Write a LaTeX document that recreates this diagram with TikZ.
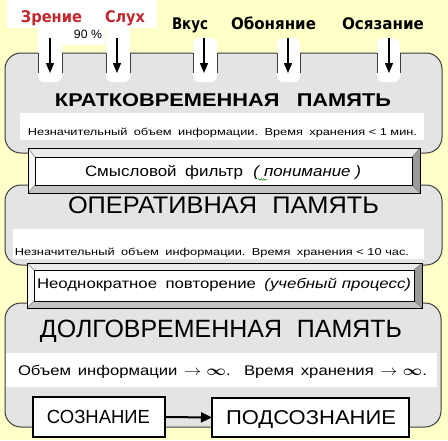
\documentclass[tikz,border=0pt]{standalone}
\usepackage{fontspec}
\usepackage{amsmath}
\setmainfont{Liberation Sans}
\newfontfamily\lblfont{DejaVu Sans}
\usetikzlibrary{arrows.meta,decorations.pathmorphing}
\newcommand{\fitw}[2]{\resizebox{#1}{\height}{#2}}
\definecolor{bgyellow}{RGB}{255,255,200}
\definecolor{boxgray}{RGB}{228,228,228}
\definecolor{boxline}{RGB}{60,60,60}
\definecolor{sensered}{RGB}{192,40,45}
\definecolor{bevtop}{RGB}{235,235,235}
\definecolor{bevleft}{RGB}{246,246,246}
\definecolor{bevright}{RGB}{154,154,154}
\definecolor{bevbot}{RGB}{196,196,196}
\newcommand{\bevelbox}[8]{%
  \fill[bevtop] (#1,-#2) -- (#3,-#2) -- (#7,-#6) -- (#5,-#6) -- cycle;
  \fill[bevleft] (#1,-#2) -- (#5,-#6) -- (#5,-#8) -- (#1,-#4) -- cycle;
  \fill[bevright] (#3,-#2) -- (#3,-#4) -- (#7,-#8) -- (#7,-#6) -- cycle;
  \fill[bevbot] (#1,-#4) -- (#5,-#8) -- (#7,-#8) -- (#3,-#4) -- cycle;
  \draw[line width=0.5pt, gray] (#1,-#2) -- (#5,-#6) (#3,-#2) -- (#7,-#6) (#1,-#4) -- (#5,-#8) (#3,-#4) -- (#7,-#8);
  \draw[line width=0.8pt] (#1,-#2) rectangle (#3,-#4);
  \draw[line width=0.8pt, fill=white] (#5,-#6) rectangle (#7,-#8);
}
\begin{document}
\begin{tikzpicture}[x=1pt,y=1pt,
  every node/.style={inner sep=0pt,outer sep=0pt},
  memory/.style={draw=boxline, fill=boxgray, rounded corners=16pt, line width=1pt},
  gapedge/.style={draw=boxline, line width=1pt},
  sensearrow/.style={-{Triangle[length=10pt,width=8pt]}, line width=1.4pt},
  senselbl/.style={anchor=base west, font=\lblfont\bfseries\fontsize{16}{16}\selectfont},
  smalltxt/.style={anchor=base west, font=\fontsize{10}{10}\selectfont},
  bigtitle/.style={anchor=base west, font=\fontsize{24}{24}\selectfont},
  plainbox/.style={draw=black, fill=white, line width=2pt, anchor=north west},
  flowarrow/.style={-{Triangle[length=11pt,width=10pt]}, line width=2pt}]
\fill[bgyellow] (0,0) rectangle (448,-440);
\useasboundingbox (0,0) rectangle (448,-440);

% memory boxes
\draw[memory] (5,-53) rectangle (442,-153);
\draw[memory] (5,-185) rectangle (442,-265);
\draw[memory] (5,-303) rectangle (441,-427);

% white bands
\fill[white] (20,-113) rectangle (424,-140);
\fill[white] (13,-229) rectangle (424,-259);
\fill[white] (6,-353) rectangle (437,-387);

% white areas behind top labels
\fill[white] (7,0) rectangle (157,-28);
\fill[white] (62,-27) rectangle (105,-45);
\foreach \ga/\gb/\gt in {38/62/20,106/130/20,193/217/38,277/300/38,377/400/38}{
  \fill[white, rounded corners=6pt] (\ga,-\gt) rectangle (\gb,-82);
  \draw[gapedge] (\ga,-53) -- (\ga,-73) (\gb,-53) -- (\gb,-73);
}

% sense labels
\node[senselbl, text=sensered] (zr) at (21,-22) {\fitw{61pt}{Зрение}};
\node[senselbl, text=sensered] (sl) at (105,-22) {\fitw{40pt}{Слух}};
\node[anchor=base west, font=\fontsize{12}{12}\selectfont] (pct) at (74,-38) {\fitw{28pt}{90 \%}};
\node[senselbl] (vk) at (172,-29.5) {\fitw{36pt}{Вкус}};
\node[senselbl] (ob) at (231,-29.5) {\fitw{85pt}{Обоняние}};
\node[senselbl] (os) at (342,-29.5) {\fitw{82pt}{Осязание}};

% sense arrows
\foreach \n/\sx in {1/50,2/117,3/204,4/288,5/389}{
  \coordinate (s\n) at (\sx,-38);
  \coordinate (e\n) at (\sx,-73);
  \draw[sensearrow] (s\n) -- (e\n);
}

% titles and texts
\node[anchor=base west, font=\bfseries\fontsize{18.5}{20}\selectfont] (t1) at (55,-106.7) {\fitw{336pt}{КРАТКОВРЕМЕННАЯ\hspace{0.8em}ПАМЯТЬ}};
\node[smalltxt] (d1) at (28,-135) {\fitw{389pt}{Незначительный\hspace{0.5em}объем\hspace{0.5em}информации.\hspace{0.5em}Время\hspace{0.5em}хранения < 1 мин.}};

\bevelbox{28}{148}{420}{193}{35}{157}{412}{185}
\node[anchor=base west, font=\fontsize{15}{15}\selectfont] (f1) at (85,-176) {\fitw{276pt}{Смысловой\hspace{0.5em}фильтр\hspace{0.6em}\textit{(\hspace{0.3em}понимание )}}};
\draw[green!50!black, line width=0.5pt, decorate, decoration={snake, amplitude=0.8pt, segment length=2.5pt}] (258,-179.5) -- (267,-179.5);

\node[bigtitle] (t2) at (68,-213) {\fitw{311pt}{ОПЕРАТИВНАЯ\hspace{0.6em}ПАМЯТЬ}};
\node[smalltxt] (d2) at (15,-255) {\fitw{394pt}{Незначительный\hspace{0.5em}объем\hspace{0.5em}информации.\hspace{0.5em}Время\hspace{0.5em}хранения < 10 час.}};

\bevelbox{27}{263}{422}{308}{34}{270}{414}{301}
\node[anchor=base west, font=\fontsize{14}{14}\selectfont] (r1) at (37,-288) {\fitw{374pt}{Неоднократное\hspace{0.5em}повторение\hspace{0.5em}\textit{(учебный\hspace{0.3em}процесс)}}};

\node[bigtitle, font=\fontsize{25}{25}\selectfont] (t3) at (40,-337) {\fitw{362pt}{ДОЛГОВРЕМЕННАЯ\hspace{0.6em}ПАМЯТЬ}};
\node[anchor=base west, font=\fontsize{14}{14}\selectfont] (d3) at (18,-375) {\fitw{409pt}{Объем\hspace{0.4em}информации\hspace{0.4em}$\rightarrow$\hspace{0.3em}$\boldsymbol{\infty}$.\hspace{0.8em}Время\hspace{0.4em}хранения\hspace{0.4em}$\rightarrow$\hspace{0.3em}$\boldsymbol{\infty}$.}};

\node[plainbox, minimum width=132pt, minimum height=40pt] (con) at (33,-397) {};
\node[anchor=base west, font=\fontsize{19}{19}\selectfont] (cont) at (47,-423) {\fitw{103pt}{СОЗНАНИЕ}};
\node[plainbox, minimum width=197pt, minimum height=39pt] (sub) at (212,-398) {};
\node[anchor=base west, font=\fontsize{20}{20}\selectfont] (subt) at (226,-424) {\fitw{170pt}{ПОДСОЗНАНИЕ}};
\draw[flowarrow] (con.east) -- (sub.west);
\end{tikzpicture}
\end{document}
